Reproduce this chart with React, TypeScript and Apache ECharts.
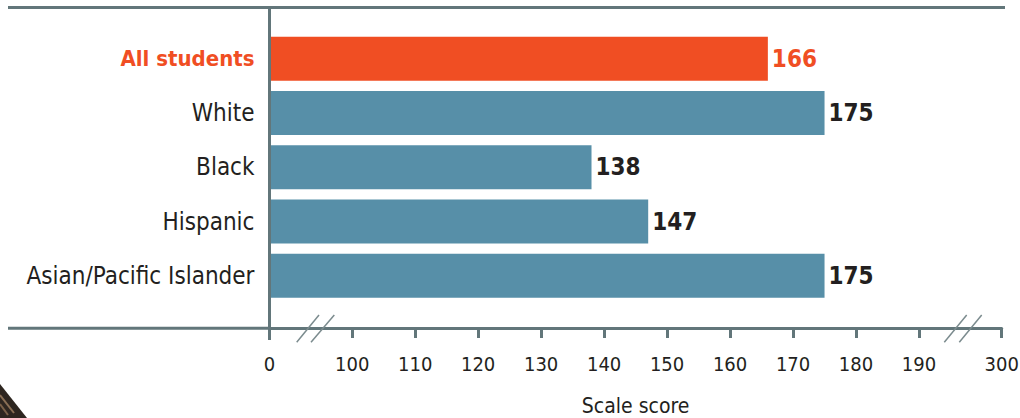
import React, { useEffect, useRef } from "react";
import * as echarts from "echarts";

const categories = ["All students", "White", "Black", "Hispanic", "Asian/Pacific Islander"];
const scores = [166, 175, 138, 147, 175];
const tickValues = [100, 110, 120, 130, 140, 150, 160, 170, 180, 190];
const lowBreakLabel = "0";
const highBreakLabel = "300";
const axisName = "Scale score";

const AXIS_MIN = 86.87; // position where the "0" tick sits (broken axis)
const AXIS_MAX = 203.13; // position where the "300" tick sits (broken axis)

const GREY = "#62767a";
const ORANGE = "#f04e23";
const BLUE = "#578fa8";
const INK = "#231f20";
const FONT = "'Liberation Sans Narrow', 'DejaVu Sans Condensed', 'Roboto Condensed', Roboto, sans-serif";

export default function App() {
  const ref = useRef<HTMLDivElement>(null);
  useEffect(() => {
    if (!ref.current) return;
    const chart = echarts.init(ref.current, null, { renderer: "svg" });
    const custom = [AXIS_MIN, ...tickValues, AXIS_MAX];
    chart.setOption({
      animation: false,
      backgroundColor: "#ffffff",
      textStyle: { fontFamily: FONT },
      grid: { left: 269.5, right: 18.3, top: 31.5, height: 271.5, containLabel: false, outerBoundsMode: "none" },
      xAxis: {
        type: "value",
        min: AXIS_MIN,
        max: AXIS_MAX,
        offset: 25,
        splitLine: { show: false },
        axisLine: { show: true, lineStyle: { color: GREY, width: 3 } },
        axisTick: { show: true, customValues: custom, length: 10, lineStyle: { color: GREY, width: 3 } },
        axisLabel: {
          customValues: custom,
          margin: 26,
          fontSize: 20,
          color: INK,
          fontFamily: FONT,
          formatter: (v: number) =>
            v <= AXIS_MIN + 0.01 ? lowBreakLabel : v >= AXIS_MAX - 0.01 ? highBreakLabel : String(Math.round(v)),
        },
        name: axisName,
        nameLocation: "middle",
        nameGap: 67,
        nameTextStyle: { fontSize: 21, color: INK, fontFamily: FONT },
      },
      yAxis: {
        type: "category",
        data: categories,
        inverse: true,
        axisLine: { show: false },
        axisTick: { show: false },
        axisLabel: {
          margin: 15,
          fontSize: 24,
          color: INK,
          fontFamily: FONT,
          formatter: (v: string, i: number) => (i === 0 ? `{hl|${v}}` : v),
          rich: {
            hl: { fontSize: 22, fontWeight: "bold", color: ORANGE, fontFamily: FONT },
          },
        },
      },
      series: [
        {
          type: "bar",
          barWidth: 44,
          clip: true,
          data: scores.map((s, i) => ({
            value: s,
            itemStyle: { color: i === 0 ? ORANGE : BLUE },
            label: { color: i === 0 ? ORANGE : INK },
          })),
          label: {
            show: true,
            position: "right",
            distance: 4,
            fontSize: 24,
            fontWeight: "bold",
            fontFamily: FONT,
          },
        },
      ],
      graphic: [
        { type: "line", z: 10, shape: { x1: 8, y1: 7.5, x2: 1005, y2: 7.5 }, style: { stroke: GREY, lineWidth: 3 } },
        { type: "line", z: 10, shape: { x1: 269.5, y1: 6, x2: 269.5, y2: 340 }, style: { stroke: GREY, lineWidth: 3 } },
        { type: "line", z: 10, shape: { x1: 8, y1: 328.2, x2: 270, y2: 328.2 }, style: { stroke: GREY, lineWidth: 3 } },
        { type: "line", z: 10, shape: { x1: 296.7, y1: 342.3, x2: 319, y2: 315 }, style: { stroke: "#7b8b8e", lineWidth: 1.5 } },
        { type: "line", z: 10, shape: { x1: 311, y1: 342.3, x2: 334.3, y2: 315 }, style: { stroke: "#7b8b8e", lineWidth: 1.5 } },
        { type: "line", z: 10, shape: { x1: 944.3, y1: 342.3, x2: 966.7, y2: 315 }, style: { stroke: "#7b8b8e", lineWidth: 1.5 } },
        { type: "line", z: 10, shape: { x1: 959.3, y1: 342.3, x2: 981.7, y2: 315 }, style: { stroke: "#7b8b8e", lineWidth: 1.5 } },
        { type: "polygon", z: 10, shape: { points: [[0, 384], [27, 418], [0, 418]] }, style: { fill: "#2e2620" } },
        { type: "line", z: 11, shape: { x1: 0, y1: 395, x2: 14, y2: 413 }, style: { stroke: "#8a6f55", lineWidth: 2 } },
        { type: "line", z: 11, shape: { x1: 0, y1: 404, x2: 8, y2: 415 }, style: { stroke: "#7a6048", lineWidth: 2 } },
      ],
    });
    return () => chart.dispose();
  }, []);
  return (
    <div
      ref={ref}
      style={{ position: "absolute", left: 0, top: 0, width: 1020, height: 418, background: "#fff" }}
    />
  );
}
